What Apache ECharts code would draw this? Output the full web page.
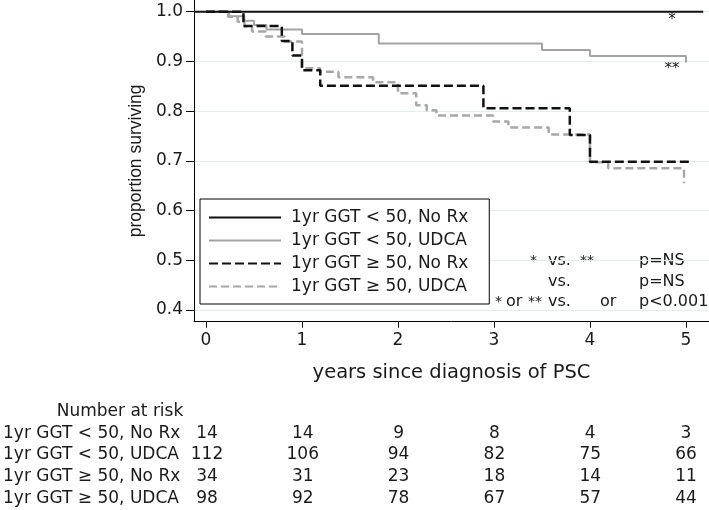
<!DOCTYPE html>
<html>
<head>
<meta charset="utf-8">
<script src="https://cdn.jsdelivr.net/npm/echarts@6/dist/echarts.min.js"></script>
<style>html,body{margin:0;padding:0;background:#fff;}#c{width:709px;height:510px;}</style>
</head>
<body>
<div id="c"></div>
<script>
// ---- data ----
const groupNames = ['1yr GGT < 50, No Rx', '1yr GGT < 50, UDCA', '1yr GGT \u2265 50, No Rx', '1yr GGT \u2265 50, UDCA'];
const yearTicks = [0, 1, 2, 3, 4, 5];
const survTicks = [0.4, 0.5, 0.6, 0.7, 0.8, 0.9, 1.0];

// Kaplan-Meier steps (time in years, proportion surviving)
const lowNoRxTime = [-0.125, 5.18];
const lowNoRxSurv = [1.0, 1.0];
const lowUdcaTime = [0, 0.24, 0.40, 0.50, 0.63, 1.00, 1.80, 3.50, 4.00, 5.00];
const lowUdcaSurv = [1.0, 0.991, 0.982, 0.973, 0.964, 0.955, 0.936, 0.923, 0.911, 0.898];
const highNoRxTime = [0, 0.39, 0.79, 0.90, 1.00, 1.19, 2.89, 3.79, 4.00, 5.06];
const highNoRxSurv = [1.0, 0.971, 0.941, 0.912, 0.882, 0.851, 0.806, 0.752, 0.698, 0.698];
const highUdcaTime = [0, 0.23, 0.33, 0.40, 0.48, 0.62, 0.82, 1.00, 1.19, 1.38, 1.74, 2.00, 2.19, 2.30, 2.40, 2.99, 3.15, 3.57, 4.00, 4.19, 4.98];
const highUdcaSurv = [1.0, 0.99, 0.98, 0.97, 0.96, 0.95, 0.94, 0.886, 0.879, 0.868, 0.858, 0.836, 0.812, 0.802, 0.791, 0.779, 0.767, 0.753, 0.697, 0.685, 0.655];

// Number at risk
const riskLowNoRx = [14, 14, 9, 8, 4, 3];
const riskLowUdca = [112, 106, 94, 82, 75, 66];
const riskHighNoRx = [34, 31, 23, 18, 14, 11];
const riskHighUdca = [98, 92, 78, 67, 57, 44];

// ---- build ----
const zip = (t, s) => t.map((v, i) => [v, s[i]]);
const riskRows = [riskLowNoRx, riskLowUdca, riskHighNoRx, riskHighUdca];
const riskData = [];
riskRows.forEach((row, r) => row.forEach((n, i) => riskData.push([yearTicks[i], r, n])));

const FONT = 'DejaVu Sans';
const TXT = '#1a1a1a';

const chart = echarts.init(document.getElementById('c'), null, {renderer: 'canvas', width: 709, height: 510});

function stepSeries(name, data, color, width, type, z) {
  return {
    name: name, type: 'line', step: 'end', data: data, symbol: 'none', z: z,
    xAxisIndex: 0, yAxisIndex: 0,
    lineStyle: {color: color, width: width, type: type},
    itemStyle: {color: color},
    emphasis: {disabled: true}
  };
}

function txt(text, x, y, align, size) {
  return {type: 'text', x: x, y: y, silent: true,
    style: {text: text, font: (size || 16) + 'px "DejaVu Sans"', fill: TXT, textAlign: align || 'left', textVerticalAlign: 'middle'}};
}

const option = {
  animation: false,
  backgroundColor: '#ffffff',
  textStyle: {fontFamily: FONT, color: TXT},
  grid: [
    {left: 194, right: 0, top: 0, height: 321.7},
    {left: 194, right: 0, top: 422.5, height: 86.4}
  ],
  xAxis: [
    {
      type: 'value', gridIndex: 0, min: -0.125, max: 5.24,
      axisLine: {onZero: false, lineStyle: {color: '#000', width: 1}},
      axisTick: {show: true, customValues: yearTicks, length: 6, lineStyle: {color: '#000', width: 1}},
      axisLabel: {customValues: yearTicks, margin: 10, fontSize: 17, color: TXT, fontFamily: FONT},
      splitLine: {show: false},
      name: 'years since diagnosis of PSC', nameLocation: 'middle', nameGap: 41,
      nameTextStyle: {fontSize: 19.5, color: TXT, fontFamily: FONT}
    },
    {type: 'value', gridIndex: 1, min: -0.125, max: 5.24, show: false}
  ],
  yAxis: [
    {
      type: 'value', gridIndex: 0, min: 0.3765, max: 1.0235,
      axisLine: {show: true, onZero: false, lineStyle: {color: '#000', width: 1}},
      axisTick: {show: true, customValues: survTicks, length: 8, lineStyle: {color: '#000', width: 1}},
      axisLabel: {customValues: survTicks, formatter: v => v.toFixed(1), margin: 11, fontSize: 17, color: TXT, fontFamily: FONT},
      splitLine: {show: true, lineStyle: {color: '#e2eeee', width: 1}},
      name: 'proportion surviving', nameLocation: 'middle', nameRotate: 90, nameGap: 48,
      nameTextStyle: {fontSize: 17.5, color: TXT, fontFamily: 'Liberation Sans'}
    },
    {
      type: 'category', gridIndex: 1, data: groupNames, inverse: true,
      axisLine: {show: false}, axisTick: {show: false}, splitLine: {show: false},
      axisLabel: {interval: 0, align: 'left', margin: 192, fontSize: 17, color: TXT, fontFamily: FONT}
    }
  ],
  legend: {
    data: groupNames,
    left: 200, top: 199, orient: 'vertical',
    itemWidth: 72, itemHeight: 20, itemGap: 6,
    padding: [10, 21, 9, 8],
    backgroundColor: '#ffffff', borderColor: '#000', borderWidth: 1, borderRadius: 0,
    selectedMode: false,
    itemStyle: {opacity: 0, borderWidth: 0},
    textStyle: {fontSize: 17, color: TXT, fontFamily: FONT, padding: [0, 0, 0, 5]}
  },
  series: [
    stepSeries(groupNames[1], zip(lowUdcaTime, lowUdcaSurv), '#a3a3a3', 2, 'solid', 2),
    stepSeries(groupNames[3], zip(highUdcaTime, highUdcaSurv), '#a8a8a8', 2.5, [8, 4], 3),
    stepSeries(groupNames[2], zip(highNoRxTime, highNoRxSurv), '#111111', 2.5, [9, 4], 4),
    stepSeries(groupNames[0], zip(lowNoRxTime, lowNoRxSurv), '#111111', 2, 'solid', 5),
    {
      type: 'scatter', xAxisIndex: 1, yAxisIndex: 1, data: riskData,
      symbolSize: 0, itemStyle: {color: '#ffffff', opacity: 1}, silent: true,
      label: {show: true, position: 'inside', formatter: p => String(p.value[2]),
        fontSize: 17, color: TXT, fontFamily: FONT, textBorderWidth: 0, opacity: 1}
    }
  ],
  graphic: [
    {type: 'text', x: 120, y: 412, silent: true, style: {text: 'Number at risk', font: '17px "DejaVu Sans"', fill: TXT, textAlign: 'center', textVerticalAlign: 'middle'}},
    txt('*', 672, 20, 'center', 15),
    txt('**', 672, 69, 'center', 15),
    txt('*', 530, 261, 'left', 14),
    txt('vs.', 548, 261),
    txt('**', 580, 261, 'left', 14),
    txt('p=NS', 639, 261),
    txt('vs.', 548, 281.5),
    txt('p=NS', 639, 281.5),
    txt('*', 495, 302, 'left', 14),
    txt('or', 506, 302),
    txt('**', 528, 302, 'left', 14),
    txt('vs.', 548, 302),
    txt('or', 600, 302),
    txt('p<0.001', 639, 302)
  ]
};
chart.setOption(option);
</script>
</body>
</html>
